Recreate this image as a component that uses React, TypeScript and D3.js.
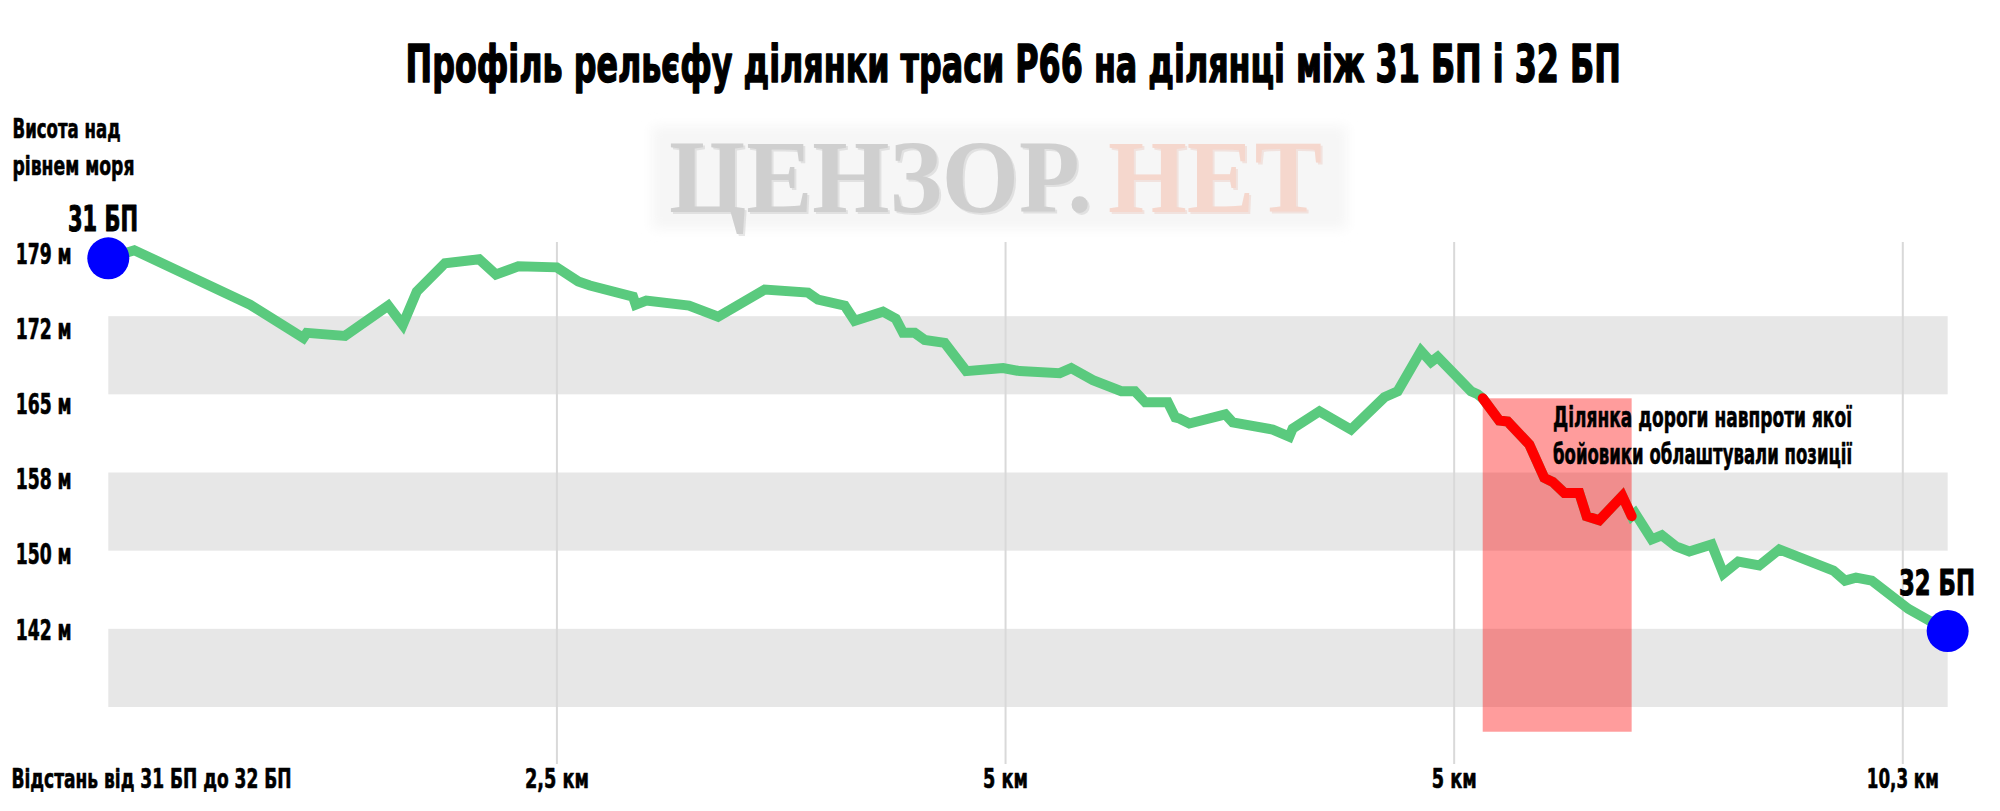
import React, { useLayoutEffect, useRef, useState } from 'react';
import * as d3 from 'd3';

// ---- data (distance in km, elevation in m) ----
const distanceKm = [
  0, 0.145, 0.79, 1.087, 1.106, 1.319, 1.56, 1.641, 1.719, 1.876, 2.067, 2.16, 2.285, 2.499,
  2.619, 2.684, 2.924, 2.939, 2.998, 3.236, 3.398, 3.658, 3.899, 3.955, 4.104, 4.159, 4.317,
  4.388, 4.429, 4.494, 4.549, 4.661, 4.781, 4.986, 5.079, 5.302, 5.366, 5.487, 5.645, 5.721,
  5.779, 5.904, 5.946, 5.968, 6.024, 6.225, 6.266, 6.489, 6.581, 6.6, 6.749, 6.925, 7.111,
  7.185, 7.315, 7.371, 7.408, 7.594, 7.631, 7.659, 7.751, 7.798, 7.919, 8.002, 8.049, 8.114,
  8.197, 8.238, 8.309, 8.437, 8.489, 8.508, 8.601, 8.657, 8.736, 8.81, 8.935, 9.0, 9.083,
  9.2, 9.312, 9.613, 9.678, 9.739, 9.827, 10.031, 10.25,
];
const elevationM = [
  179.0, 179.8, 174.4, 171.1, 171.6, 171.3, 174.3, 172.4, 175.7, 178.5, 178.9, 177.4, 178.2, 178.1,
  176.7, 176.3, 175.2, 174.4, 174.8, 174.3, 173.2, 175.9, 175.6, 174.9, 174.3, 172.8, 173.7,
  173.0, 171.6, 171.6, 170.9, 170.6, 167.8, 168.1, 167.8, 167.6, 168.1, 166.9, 165.8, 165.8,
  164.7, 164.7, 163.2, 163.1, 162.6, 163.5, 162.7, 162.0, 161.3, 162.1, 163.8, 162.0, 165.2,
  165.8, 169.8, 168.7, 169.2, 165.8, 165.5, 165.1, 162.9, 162.8, 160.5, 157.2, 156.8, 155.7,
  155.7, 153.4, 153.0, 155.4, 153.4, 153.7, 151.1, 151.5, 150.4, 149.9, 150.6, 147.7, 148.9,
  148.5, 150.1, 148.0, 147.0, 147.3, 147.0, 144.2, 142.0,
];
const dangerStartKm = 7.659;
const dangerEndKm = 8.489;
const dangerFloorM = 132;

const xTickValues = [2.5, 5, 7.5, 10];
const xTickLabels = ['2,5 км', '5 км', '5 км', '10,3 км'];
const yTickLabels = ['179 м', '172 м', '165 м', '158 м', '150 м', '142 м'];
const bandIds = [0, 1, 2, 3, 4, 5];

const title = 'Профіль рельєфу ділянки траси Р66 на ділянці між 31 БП і 32 БП';
const yTitle = ['Висота над', 'рівнем моря'];
const xTitle = 'Відстань від 31 БП до 32 БП';
const startLabel = '31 БП';
const endLabel = '32 БП';
const note = ['Ділянка дороги навпроти якої', 'бойовики облаштували позиції'];

const FONT = "'DejaVu Sans Condensed', 'DejaVu Sans', sans-serif";
const SERIF = "'Liberation Serif', 'DejaVu Serif', serif";

type FitProps = {
  x: number;
  y: number;
  width: number;
  fontSize: number;
  anchor?: 'start' | 'middle' | 'end';
  fill?: string;
  family?: string;
  weight?: string;
  opacity?: number;
  heavy?: number;
  children: string;
};

// Text drawn in a wide font and compressed horizontally to a condensed look.
function FitText({ x, y, width, fontSize, anchor = 'start', fill = '#000', family = FONT, weight = 'bold', opacity = 1, heavy = 0, children }: FitProps) {
  const ref = useRef<SVGTextElement>(null);
  const [sx, setSx] = useState(0.7);
  useLayoutEffect(() => {
    if (ref.current) {
      const w = ref.current.getComputedTextLength();
      if (w > 0) setSx(width / w);
    }
  }, [width, children, fontSize]);
  return (
    <text
      ref={ref}
      transform={`translate(${x},${y}) scale(${sx},1)`}
      fontSize={fontSize}
      fontFamily={family}
      fontWeight={weight}
      textAnchor={anchor}
      fill={fill}
      opacity={opacity}
      stroke={heavy > 0 ? fill : 'none'}
      strokeWidth={heavy}
      strokeLinejoin="round"
    >
      {children}
    </text>
  );
}

export default function App() {
  const W = 2000;
  const H = 811;
  const x = d3.scaleLinear().domain([0, 10]).range([108.3, 1902.8]);
  const y = d3.scaleLinear().domain([142, 179]).range([631, 258.3]);
  const band = d3.scaleBand<number>().domain(bandIds).range([238, 707]);
  const yLab = d3.scalePoint<string>().domain(yTickLabels).range([253, 629]);

  const pts = distanceKm.map((d, i) => ({ km: d, m: elevationM[i] }));
  const red = pts.filter((p) => p.km >= dangerStartKm - 1e-9 && p.km <= dangerEndKm + 1e-9);
  const line = d3
    .line<{ km: number; m: number }>()
    .x((d) => x(d.km))
    .y((d) => y(d.m))
    .curve(d3.curveLinear);

  const first = pts[0];
  const last = pts[pts.length - 1];
  const redTop = y(red[0].m);
  const plotLeft = x(0);
  const plotRight = x(last.km);
  const xTickWidths = [64, 45, 45, 72];

  return (
    <svg
      width={W}
      height={H}
      style={{ position: 'absolute', left: 0, top: 0, background: '#fff' }}
      fontFamily={FONT}
    >
      <defs>
        <filter id="soft" x="-10%" y="-30%" width="120%" height="160%">
          <feGaussianBlur stdDeviation="6" />
        </filter>
      </defs>
      <rect x={0} y={0} width={W} height={H} fill="#fff" />

      {/* title */}
      <FitText x={405.6} y={82} width={1215} fontSize={51} heavy={1.4}>
        {title}
      </FitText>

      {/* watermark */}
      <g>
        <rect x={652} y={126} width={695} height={103} fill="#f6f6f6" filter="url(#soft)" />
        <FitText x={671} y={214} width={423} fontSize={104} family={SERIF} fill="#bdbdbd" opacity={0.35}>
          ЦЕНЗОР.
        </FitText>
        <FitText x={669} y={212} width={423} fontSize={104} family={SERIF} fill="#cfcfcf">
          ЦЕНЗОР.
        </FitText>
        <FitText x={1110} y={214} width={214} fontSize={104} family={SERIF} fill="#e8bfb2" opacity={0.35}>
          НЕТ
        </FitText>
        <FitText x={1108} y={212} width={214} fontSize={104} family={SERIF} fill="#f5d7cd">
          НЕТ
        </FitText>
      </g>

      {/* bands */}
      {bandIds.map((b) =>
        b % 2 === 1 ? (
          <rect
            key={b}
            x={plotLeft}
            y={band(b)}
            width={plotRight - plotLeft}
            height={band.bandwidth()}
            fill="#e7e7e7"
          />
        ) : null
      )}

      {/* vertical gridlines */}
      {xTickValues.map((v, i) => (
        <line key={i} x1={x(v)} x2={x(v)} y1={242} y2={764} stroke="#d9d9d9" strokeWidth={2} />
      ))}

      {/* danger zone */}
      <rect
        x={x(dangerStartKm)}
        y={redTop}
        width={x(dangerEndKm) - x(dangerStartKm)}
        height={y(dangerFloorM) - redTop}
        fill="#ff0000"
        opacity={0.39}
      />

      {/* profile line */}
      <path
        d={line(pts) || ''}
        fill="none"
        stroke="#5aca7e"
        strokeWidth={10}
        strokeLinejoin="miter"
        strokeMiterlimit={3}
      />
      <path
        d={line(red) || ''}
        fill="none"
        stroke="#ff0000"
        strokeWidth={10}
        strokeLinejoin="miter"
        strokeMiterlimit={3}
        strokeLinecap="round"
      />

      {/* end points */}
      <circle cx={x(first.km)} cy={y(first.m)} r={21} fill="#0000ff" />
      <circle cx={x(last.km)} cy={y(last.m)} r={21} fill="#0000ff" />
      <FitText x={68} y={231} width={70} fontSize={36} heavy={1}>
        {startLabel}
      </FitText>
      <FitText x={1899} y={595} width={76} fontSize={36} heavy={1}>
        {endLabel}
      </FitText>

      {/* y axis labels */}
      {yTickLabels.map((t) => (
        <FitText key={t} x={15.7} y={(yLab(t) as number) + 10.5} width={56} fontSize={28} heavy={0.6}>
          {t}
        </FitText>
      ))}
      <FitText x={12.5} y={138} width={108} fontSize={27} heavy={0.6}>
        {yTitle[0]}
      </FitText>
      <FitText x={12.5} y={175} width={122} fontSize={27} heavy={0.6}>
        {yTitle[1]}
      </FitText>

      {/* x axis labels */}
      {xTickValues.map((v, i) => (
        <FitText key={i} x={x(v)} y={788} width={xTickWidths[i]} fontSize={27} anchor="middle" heavy={0.6}>
          {xTickLabels[i]}
        </FitText>
      ))}
      <FitText x={11.5} y={788} width={280} fontSize={27} heavy={0.6}>
        {xTitle}
      </FitText>

      {/* annotation */}
      {note.map((t, i) => (
        <FitText key={t} x={1553} y={427 + i * 37} width={299} fontSize={29} heavy={0.6}>
          {t}
        </FitText>
      ))}
    </svg>
  );
}
